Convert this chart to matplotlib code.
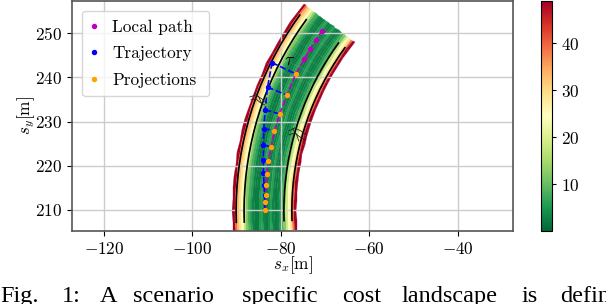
import numpy as np
import matplotlib
matplotlib.use('Agg')
import matplotlib.pyplot as plt

plt.rcParams['font.family'] = 'cmr10'
plt.rcParams['mathtext.fontset'] = 'cm'
plt.rcParams['axes.formatter.use_mathtext'] = True
plt.rcParams['font.size'] = 12.4

#centre line of the road
road_x = [-83.53, -83.66, -83.70, -83.66, -83.53, -83.32, -83.03, -82.65, -82.19, -81.65, -81.03,
          -80.32, -79.54, -78.68, -77.73, -76.72, -75.62, -74.45, -73.21, -71.90, -70.52, -69.07]
road_y = [205.00, 207.39, 209.80, 212.21, 214.61, 217.01, 219.40, 221.78, 224.15, 226.49, 228.82,
          231.12, 233.40, 235.65, 237.86, 240.05, 242.19, 244.30, 246.36, 248.39, 250.36, 252.28]
#cost across the road, left edge to right edge
offsets = [-7.25, -6.65, -6.25, -5.75, -5.25, -4.75, -4.25, -3.75, -3.25, -2.75, -2.25, -1.75, -1.25, -0.75, -0.25,
           0.25, 0.75, 1.25, 1.75, 2.25, 2.75, 3.25, 3.75, 4.25, 4.75, 5.25, 5.75, 6.25, 6.65, 7.25]
cost = [49, 39, 33, 29, 24, 18, 12, 8, 6, 3, 2, 2, 5, 6, 3,
        2, 4, 6, 3, 2, 3, 5, 8, 12, 18, 24, 29, 39, 49]
lane_offsets = [-6.4, -4.6, 4.4, 6.2]

path_x = [-83.61, -83.54, -83.45, -83.39, -83.16, -82.78, -82.19, -81.42, -80.23, -78.65, -76.61,
          -74.65, -73.45, -72.10, -70.59]
path_y = [210.07, 211.74, 213.46, 215.66, 218.21, 221.15, 224.25, 227.87, 231.72, 236.02, 240.77,
          244.16, 246.36, 248.53, 250.57]
traj_x = [-83.61, -83.61, -83.68, -83.77, -83.91, -83.91, -83.91, -83.84, -83.54, -83.00, -81.96]
traj_y = [210.07, 211.74, 213.46, 215.66, 218.30, 221.38, 224.71, 228.39, 232.62, 237.76, 243.33]
proj_x = path_x[:11]
proj_y = path_y[:11]

#the two small scribbles on the road edges
mark_x = [[-87.0, -85.64, -84.29, -83.16], [-86.77, -85.64, -84.51, -83.61], [-85.87, -84.97, -84.29],
          [-78.19, -76.84, -75.49, -74.13], [-78.19, -76.84, -75.71, -74.58], [-77.29, -76.39, -75.94]]
mark_y = [[235.57, 236.02, 235.11, 234.21], [234.89, 235.11, 234.21, 233.76], [236.47, 235.57, 233.98],
          [227.87, 228.55, 227.87, 226.97], [226.97, 227.42, 226.52, 225.84], [228.33, 226.97, 225.61]]

caption_words = ['Fig.', '1:', 'A', 'scenario', 'specific', 'cost', 'landscape', 'is', 'defined']
caption_px = [0, 62, 100, 133, 242, 342, 402, 522, 560]

W, H = 606, 304
fig = plt.figure(figsize=(W/100, H/100), dpi=100)
ax = fig.add_axes([72/W, 1-231/H, 441/W, 230/H])
cax = fig.add_axes([540.5/W, 1-231/H, 11.5/W, 230/H])

#road normals from the centre line
rx = np.array(road_x)
ry = np.array(road_y)
dx = np.gradient(rx)
dy = np.gradient(ry)
ln = np.hypot(dx, dy)
nx = dy/ln
ny = -dx/ln
off = np.array(offsets)
X = rx[:, None] + nx[:, None]*off[None, :]
Y = ry[:, None] + ny[:, None]*off[None, :]
C = np.tile(np.array(cost), (len(rx)-1, 1))
mesh = ax.pcolormesh(X, Y, C, cmap='RdYlGn_r', vmin=0, vmax=49, shading='flat',
                     antialiased=True, edgecolor='face', linewidth=0.2)

for o in lane_offsets:
    ax.plot(rx[1:-1] + nx[1:-1]*o, ry[1:-1] + ny[1:-1]*o, color='k', lw=1.2, zorder=2)
for mx, my in zip(mark_x, mark_y):
    ax.plot(mx, my, color='#222222', lw=0.6, zorder=3)

ax.plot(path_x, path_y, color='m', ls='--', lw=1.2, zorder=3)
ax.plot(traj_x, traj_y, color='b', ls='--', lw=1.2, zorder=4)
for i in range(len(proj_x)):
    ax.plot([traj_x[i], proj_x[i]], [traj_y[i], proj_y[i]], color='b', ls='--', lw=1.2, zorder=4)
ax.plot(path_x, path_y, 'o', color='m', ms=2.9, ls='none', label='Local path', zorder=5)
ax.plot(traj_x, traj_y, 'o', color='b', ms=2.9, ls='none', label='Trajectory', zorder=6)
ax.plot(proj_x, proj_y, 'o', color='orange', ms=2.9, ls='none', label='Projections', zorder=7)
ax.text(-78.0, 243.8, r'$\tau$', fontsize=13, ha='center', va='center', zorder=8)

ax.set_xlim(-127.2, -27.5)
ax.set_ylim(205.2, 257.3)
ax.set_xticks([-120, -100, -80, -60, -40])
ax.set_yticks([210, 220, 230, 240, 250])
ax.grid(color='#cccccc', lw=1)
ax.set_xlabel('$s_x$[m]', labelpad=-1.5)
ax.set_ylabel('$s_y$[m]', labelpad=-1)
for s in ax.spines.values():
    s.set_color('#555555')
    s.set_linewidth(1.2)
ax.legend(loc='upper left', bbox_to_anchor=(0.023, 0.657, 0.288, 0.3), borderaxespad=0, mode='expand',
          fontsize=12.4, handlelength=0.35, handletextpad=0.9, labelspacing=0.64, framealpha=0.8, borderpad=0.5)

cb = fig.colorbar(mesh, cax=cax)
cb.set_ticks([10, 20, 30, 40])
cb.ax.tick_params(length=3)

for word, px in zip(caption_words, caption_px):
    fig.text(px/W, 1-302/H, word, family='Liberation Serif', fontsize=17.5, ha='left', va='baseline')
fig.savefig('out.png', dpi=100)
